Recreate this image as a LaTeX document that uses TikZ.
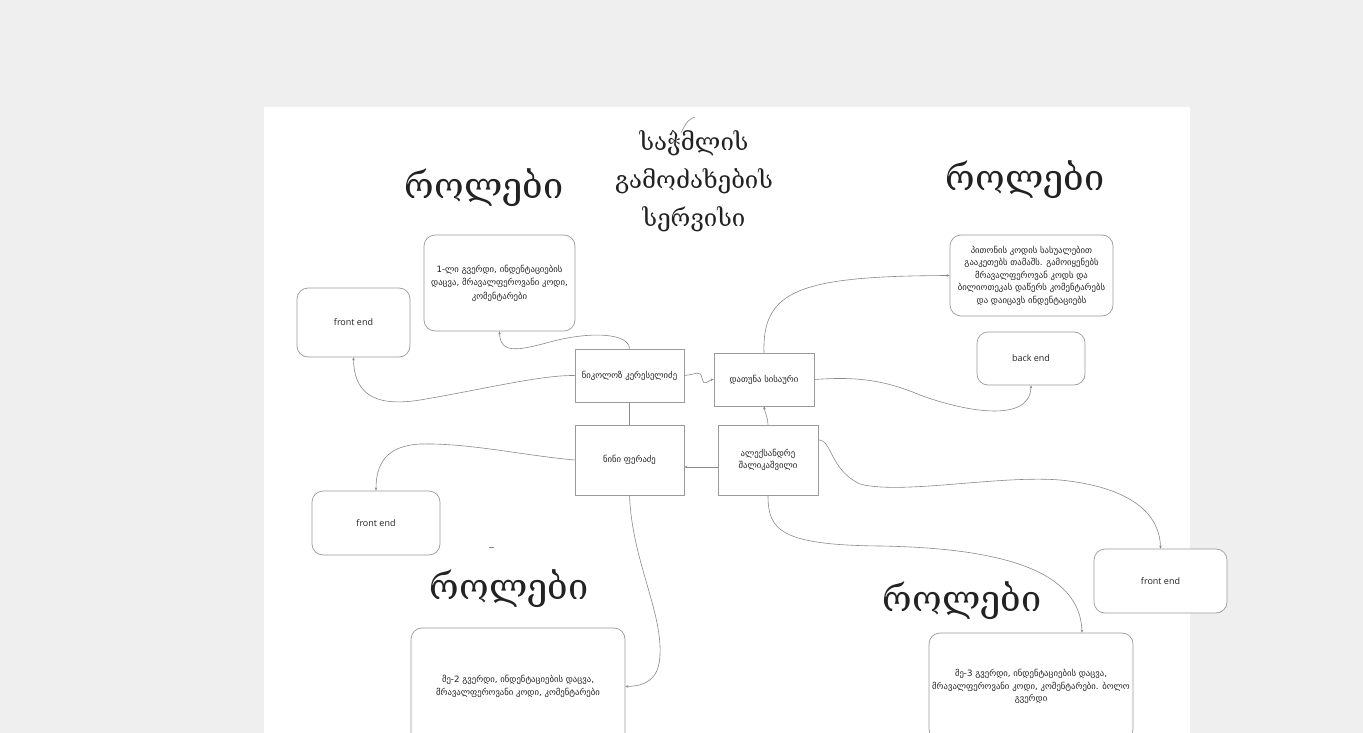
\documentclass[tikz,border=0pt]{standalone}
\usepackage{fontspec}
\setmainfont{Open Sans}
\newfontfamily\geo{DejaVu Sans}
\newfontfamily\geoserif{DejaVu Serif}
\usetikzlibrary{arrows.meta,calc}
\definecolor{bggray}{HTML}{EFEFEF}
\definecolor{boxline}{HTML}{9A9A9A}
\definecolor{conn}{HTML}{8A8A8A}
\definecolor{txt}{HTML}{222222}
\tikzset{
  rbox/.style={draw=boxline, line width=0.7pt, rounded corners=11pt, fill=white, inner sep=0pt, align=center, text=txt},
  sbox/.style={draw=boxline, line width=0.7pt, fill=white, inner sep=0pt, align=center, text=txt},
  small/.style={font=\geo\fontsize{8.7}{13.5}\selectfont},
  smalltr/.style={font=\geo\fontsize{8.7}{12.5}\selectfont},
  latin/.style={font=\fontsize{9}{11}\selectfont},
  heading/.style={font=\geoserif\fontsize{36}{40}\selectfont, text=txt, inner sep=0pt},
  title/.style={font=\geoserif\fontsize{24}{38}\selectfont, text=txt, align=center, inner sep=0pt},
  link/.style={draw=conn, line width=0.6pt},
  arr/.style={link, -{Stealth[length=3pt,width=2.6pt]}},
}
\begin{document}
\begin{tikzpicture}[x=1pt,y=-1pt]
\useasboundingbox (0,0) rectangle (1363,733);
\clip (0,0) rectangle (1363,733);
\fill[bggray] (0,0) rectangle (1363,733);
\fill[white] (264,107) rectangle (1190,740);

% title and headings
\node[title] (ttl) at (694,181) {საჭმლის\\გამოძახების\\სერვისი};
\draw[link] (681,133) .. controls (686,122) and (690,118) .. (695,117);
\node[heading] (h1) at (484,188) {როლები};
\node[heading] (h2) at (1025,180) {როლები};
\node[heading] (h3) at (509,589) {როლები};
\node[heading] (h4) at (962,601) {როლები};

% boxes
\node[rbox, small, minimum width=151pt, minimum height=96pt] (tlrole) at (499.5,283)
  {1-ლი გვერდი, ინდენტაციების\\დაცვა, მრავალფეროვანი კოდი,\\კომენტარები};
\node[rbox, latin, minimum width=113pt, minimum height=69pt] (fe1) at (353.5,322.5) {front end};
\node[sbox, small, minimum width=109pt, minimum height=53pt] (nik) at (629.5,375.5) {ნიკოლოზ კერესელიძე};
\node[sbox, small, minimum width=100pt, minimum height=53pt] (dat) at (764,379.5) {დათუნა სისაური};
\node[rbox, smalltr, minimum width=163pt, minimum height=81pt] (trrole) at (1031.5,275.5)
  {პითონის კოდის სასუალებით\\გააკეთებს თამაშს. გამოიყენებს\\მრავალფეროვან კოდს და\\ბილიოთეკას დაწერს კომენტარებს\\და დაიცავს ინდენტაციებს};
\node[rbox, latin, minimum width=108pt, minimum height=53pt] (be) at (1031,358.5) {back end};
\node[sbox, small, minimum width=109pt, minimum height=70pt] (nini) at (629.5,460) {ნინი ფერაძე};
\node[sbox, smalltr, minimum width=100pt, minimum height=70pt] (alex) at (768,460) {ალექსანდრე\\შალიკაშვილი};
\node[rbox, latin, minimum width=128pt, minimum height=64pt] (fe2) at (376,523) {front end};
\node[rbox, smalltr, minimum width=214pt, minimum height=117pt] (blrole) at (518,686.5)
  {მე-2 გვერდი, ინდენტაციების დაცვა,\\მრავალფეროვანი კოდი, კომენტარები};
\node[rbox, latin, minimum width=133pt, minimum height=64pt] (fe3) at (1160.5,581) {front end};
\node[rbox, smalltr, minimum width=204pt, minimum height=107pt] (brrole) at (1031,686.5)
  {მე-3 გვერდი, ინდენტაციების დაცვა,\\მრავალფეროვანი კოდი, კომენტარები. ბოლო\\გვერდი};

\coordinate (dash1) at (489,547);
\coordinate (dash2) at (494,547);
\draw[link] (dash1) -- (dash2);

% connectors
\draw[arr] (nik.north) .. controls (629,333) and (590,331) .. (550,342)
  .. controls (520,350) and (500,355) .. (tlrole.south);
\draw[arr] (nik.west) .. controls (540,375) and (480,390) .. (420,400)
  .. controls (370,408) and (354,390) .. (fe1.south);
\draw[arr] (nik.east) .. controls (698,374) and (700,370) .. (702,378)
  .. controls (704,388) and (708,380) .. (dat.west);
\draw[arr] (dat.north) .. controls (762,290) and (800,276) .. (trrole.west);
\draw[arr] (dat.east) .. controls (850,377) and (880,378) .. (920,395)
  .. controls (960,410) and (1030,425) .. (be.south);
\draw[arr] (alex.north) .. controls (768,418) and (765,413) .. (dat.south);
\draw[arr] ($(alex.west)+(0,7)$) -- ($(nini.east)+(0,7)$);
\draw[link] (nini.north) -- (nik.south);
\draw[arr] (nini.west) .. controls (520,455) and (470,443) .. (420,444)
  .. controls (385,446) and (376,465) .. (fe2.north);
\draw[arr] (nini.south) .. controls (632,560) and (662,610) .. (660,655)
  .. controls (659,680) and (645,686) .. (blrole.east);
\draw[arr] ($(alex.north east)+(0,15)$) .. controls (832,440) and (830,470) .. (860,484)
  .. controls (900,495) and (1000,475) .. (1060,480)
  .. controls (1140,488) and (1160,520) .. (fe3.north);
\draw[arr] (alex.south) .. controls (768,530) and (780,545) .. (880,546)
  .. controls (1000,548) and (1080,570) .. ($(brrole.north)+(51,0)$);
\end{tikzpicture}
\end{document}
